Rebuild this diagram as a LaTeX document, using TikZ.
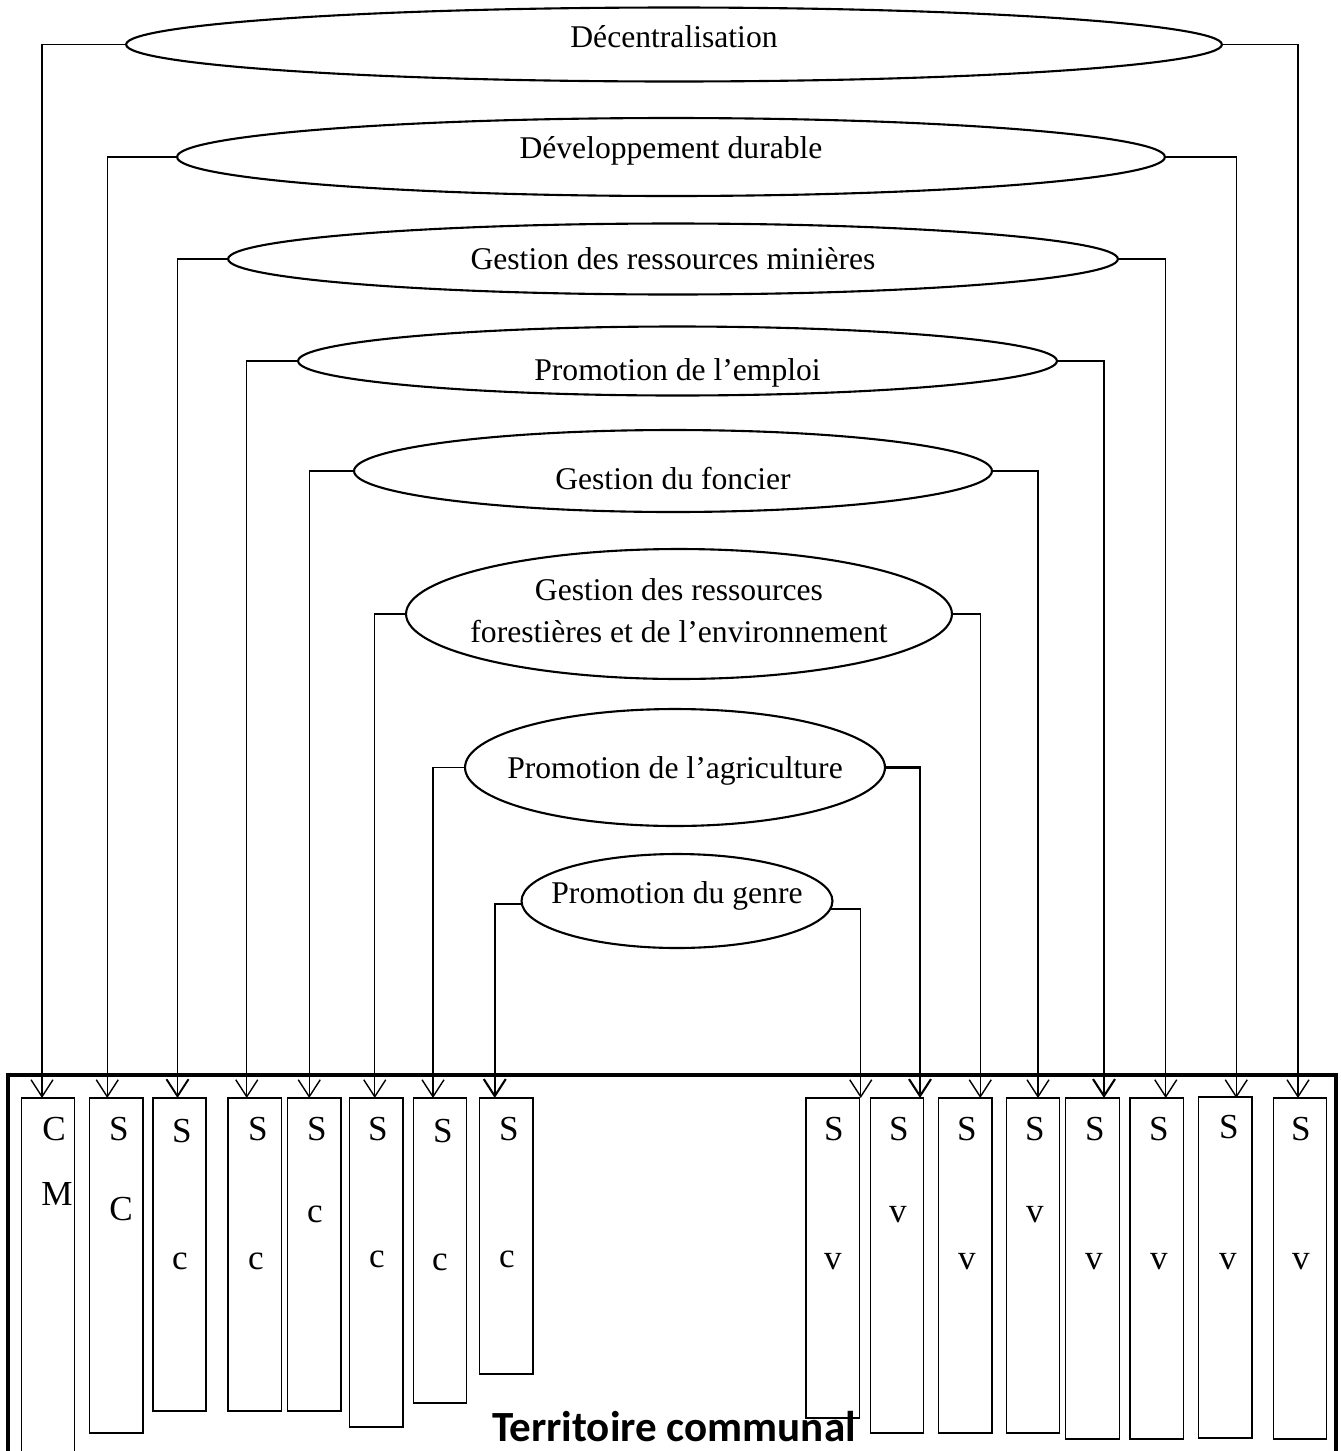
\documentclass[tikz,border=0pt]{standalone}
\usepackage{fontspec}
\setmainfont{Liberation Serif}
\newfontfamily\calibri{Carlito}
\usetikzlibrary{shapes.geometric,arrows.meta,calc}

\tikzset{
  topic/.style={draw, ellipse, line width=1.2pt, inner sep=0pt, outer sep=0pt},
  etext/.style={font=\fontsize{18}{24}\selectfont, align=center, inner sep=0pt},
  sbox/.style={draw, line width=0.7pt, anchor=north, minimum width=1.07cm, inner sep=0pt, outer sep=0pt},
  letter/.style={font=\fontsize{20}{24}\selectfont, inner sep=0pt},
  link/.style={line width=0.8pt, -{Straight Barb[length=0.34cm,width=0.44cm]}},
  frame/.style={line width=2.4pt}
}

\begin{document}
\begin{tikzpicture}[x=0.02cm, y=-0.02cm]
\useasboundingbox (0,0) rectangle (1340,1451);

% Themes (nested ellipses)
\node[topic, minimum width=21.92cm, minimum height=1.48cm, label={[etext, yshift=4.3pt]center:Décentralisation}] (e1) at (674,44.5) {};
\node[topic, minimum width=19.76cm, minimum height=1.56cm, label={[etext, yshift=3.4pt]center:Développement durable}] (e2) at (671,157) {};
\node[topic, minimum width=17.80cm, minimum height=1.42cm, label={[etext]center:Gestion des ressources minières}] (e3) at (673,259) {};
\node[topic, minimum width=15.18cm, minimum height=1.38cm, label={[etext, yshift=-6.6pt]center:Promotion de l’emploi}] (e4) at (677.5,361) {};
\node[topic, minimum width=12.76cm, minimum height=1.64cm, label={[etext, yshift=-4.5pt]center:Gestion du foncier}] (e5) at (673,471) {};
\node[topic, minimum width=10.92cm, minimum height=2.60cm, label={[etext, yshift=1.7pt]center:Gestion des ressources\\forestières et de l’environnement}] (e6) at (679,614) {};
\node[topic, minimum width=8.40cm, minimum height=2.34cm, label={[etext, yshift=-2pt]center:Promotion de l’agriculture}] (e7) at (675,767.5) {};
\node[topic, minimum width=6.22cm, minimum height=1.88cm, label={[etext, yshift=2.8pt]center:Promotion du genre}] (e8) at (677,901) {};

% Territoire communal frame
\draw[frame] (8,1470) |- (1336,1075) -- (1336,1470);
\node[font=\calibri\bfseries\fontsize{24.5}{28}\selectfont, anchor=base, inner sep=0pt] (terr) at (674,1441) {Territoire communal};

% Services (left: S c, right: S v)
\node[sbox, minimum height=7.44cm] (b1) at (48,1098) {};
\node[sbox, minimum height=6.70cm] (b2) at (116.25,1098) {};
\node[sbox, minimum height=6.26cm, line width=1pt] (b3) at (179.5,1098) {};
\node[sbox, minimum height=6.26cm] (b4) at (254.75,1098) {};
\node[sbox, minimum height=6.26cm] (b5) at (314.25,1098) {};
\node[sbox, minimum height=6.58cm] (b6) at (376.25,1098) {};
\node[sbox, minimum height=6.10cm] (b7) at (440,1098) {};
\node[sbox, minimum height=5.52cm] (b8) at (506.25,1098) {};
\node[sbox, minimum height=6.40cm, line width=1pt] (b9) at (832.75,1098) {};
\node[sbox, minimum height=6.70cm] (b10) at (897,1098) {};
\node[sbox, minimum height=6.70cm] (b11) at (965.25,1098) {};
\node[sbox, minimum height=6.70cm] (b12) at (1033,1098) {};
\node[sbox, minimum height=6.82cm] (b13) at (1092.5,1098) {};
\node[sbox, minimum height=6.82cm] (b14) at (1156.75,1098) {};
\node[sbox, minimum height=6.82cm] (b15) at (1225.25,1097) {};
\node[sbox, minimum height=6.82cm] (b16) at (1300,1098) {};

% letters
\node[letter] at (54,1129) {C};    \node[letter] at (57,1194) {M};
\node[letter] at (119,1129) {S};   \node[letter] at (121,1209) {C};
\node[letter] at (182,1131) {S};   \node[letter] at (180,1261) {c};
\node[letter] at (258,1129) {S};   \node[letter] at (256,1261) {c};
\node[letter] at (317,1129) {S};   \node[letter] at (315,1214) {c};
\node[letter] at (378,1129) {S};   \node[letter] at (377,1259) {c};
\node[letter] at (443,1131) {S};   \node[letter] at (440,1262) {c};
\node[letter] at (509,1129) {S};   \node[letter] at (507,1259) {c};
\node[letter] at (834,1129) {S};   \node[letter] at (833,1262) {v};
\node[letter] at (899,1129) {S};   \node[letter] at (898,1215) {v};
\node[letter] at (967,1129) {S};   \node[letter] at (967,1262) {v};
\node[letter] at (1035,1129) {S};  \node[letter] at (1035,1215) {v};
\node[letter] at (1095,1129) {S};  \node[letter] at (1094,1262) {v};
\node[letter] at (1159,1129) {S};  \node[letter] at (1159,1262) {v};
\node[letter] at (1229,1127) {S};  \node[letter] at (1228,1262) {v};
\node[letter] at (1301,1129) {S};  \node[letter] at (1301,1262) {v};

% Links from each theme down to its two services
\draw[link] (e1.west) -| ($(b1.north)+(-6,0)$);
\draw[link] (e1.east) -| ($(b16.north)+(-2,0)$);
\draw[link] (e2.west) -| ($(b2.north)+(-9,0)$);
\draw[link] (e2.east) -| ($(b15.north)+(11,1)$);
\draw[link, line width=1.1pt] (e3.west) -| ($(b3.north)+(-2,0)$);
\draw[link] (e3.east) -| ($(b14.north)+(9,0)$);
\draw[link] (e4.west) -| ($(b4.north)+(-8,0)$);
\draw[link, line width=1.2pt] (e4.east) -| ($(b13.north)+(11.5,0)$);
\draw[link] (e5.west) -| ($(b5.north)+(-5,0)$);
\draw[link] (e5.east) -| ($(b12.north)+(5,0)$);
\draw[link] (e6.west) -| ($(b6.north)+(-1.5,0)$);
\draw[link] (e6.east) -| ($(b11.north)+(15,0)$);
\draw[link] (e7.west) -| ($(b7.north)+(-7,0)$);
\draw[link, line width=1.2pt] (e7.east) -| ($(b10.north)+(23,0)$);
\draw[link, line width=1.2pt] (e8.181) -| ($(b8.north)+(-11.5,0)$);
\draw[link] (e8.-3.5) -| ($(b9.north)+(28,0)$);

\end{tikzpicture}
\end{document}
